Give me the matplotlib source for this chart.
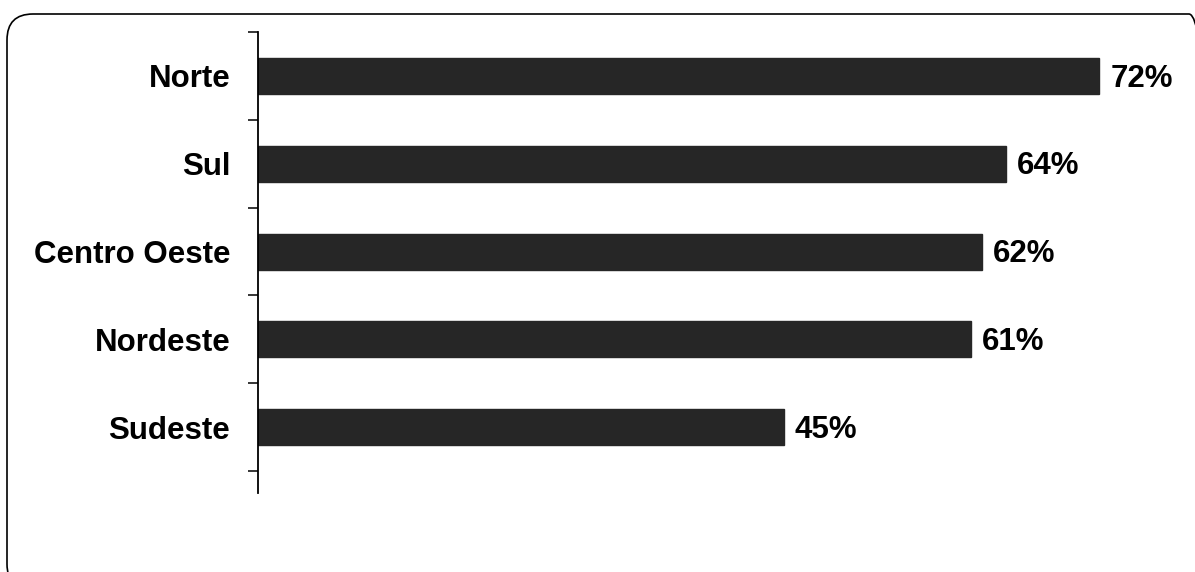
import matplotlib
matplotlib.use("Agg")
import matplotlib.pyplot as plt
from matplotlib.patches import FancyBboxPatch

regions = ["Norte", "Sul", "Centro Oeste", "Nordeste", "Sudeste"]
shares = [72, 64, 62, 61, 45]
value_labels = ["72%", "64%", "62%", "61%", "45%"]

W, H, DPI = 1195, 572, 100
fig = plt.figure(figsize=(W / DPI, H / DPI), dpi=DPI)
fig.patch.set_facecolor("white")

# rounded frame around the whole chart (display pixels)
frame = FancyBboxPatch((7, -18), 1208, 576,
                       boxstyle="round,pad=0,rounding_size=26",
                       transform=None, fill=False, edgecolor="black",
                       linewidth=1.2, clip_on=False)
fig.patches.append(frame)

ax = fig.add_axes([258 / W, 79 / H, (1180 - 258) / W, (540 - 79) / H])
y = list(range(len(regions)))
ax.barh(y, shares, height=0.41, color="#262626", edgecolor="#262626")

ax.set_xlim(0, 78.93)
ax.set_ylim(4.75, -0.5)

font = dict(family=["Liberation Sans", "DejaVu Sans"], fontweight="bold", fontsize=22.5)
for yi, v, lab in zip(y, shares, value_labels):
    ax.annotate(lab, (v, yi), xytext=(8, -2), textcoords="offset points",
                va="center", ha="left", color="black", **font)

for s in ["top", "right", "bottom"]:
    ax.spines[s].set_visible(False)
ax.spines["left"].set_linewidth(1.3)
ax.spines["left"].set_color("black")
ax.set_xticks([])

ax.set_yticks(y)
ax.set_yticklabels(regions, **font)
ax.tick_params(axis="y", which="major", length=0, pad=20)
ax.set_yticks([i - 0.5 for i in range(len(regions) + 1)], minor=True)
ax.tick_params(axis="y", which="minor", length=7.5, width=1.1, direction="out")

fig.savefig("out.png", dpi=DPI, facecolor="white")
